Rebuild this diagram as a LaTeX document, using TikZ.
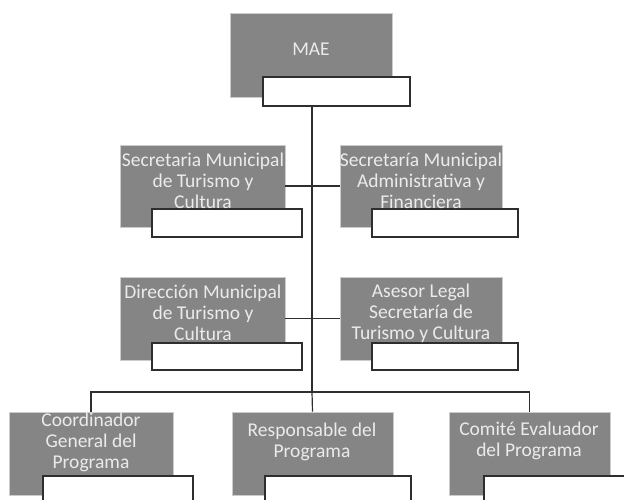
\documentclass[tikz,border=0pt]{standalone}
\usepackage{fontspec}
\setmainfont{Carlito}
\definecolor{boxgray}{HTML}{858585}
\definecolor{txtgray}{HTML}{EBEBEB}
\definecolor{linegray}{HTML}{2E2E2E}
\begin{document}
\begin{tikzpicture}[x=1pt,y=-1pt,
  darkbox/.style={fill=boxgray,draw=black!20,line width=0.6pt,inner sep=0pt,minimum width=#1,minimum height=83pt},
  darkbox/.default=164pt,
  whitebox/.style={fill=white,draw=linegray,line width=1.1pt,inner sep=0pt,minimum width=148pt,minimum height=29pt},
  label text/.style={text=txtgray,font=\fontsize{19.5}{21}\selectfont,align=center,inner sep=0pt},
  conn/.style={draw=linegray,line width=1.2pt}]
\useasboundingbox (0,0) rectangle (624,500);
\begin{scope}
\clip (0,0) rectangle (624,500);
% dark boxes
\node[darkbox=162pt,minimum height=84pt] (mae) at (311,55) {};
\node[darkbox=165pt,minimum height=82pt] (smtc) at (202.5,186) {};
\node[darkbox=162pt,minimum height=82pt] (smaf) at (421,186) {};
\node[darkbox=165pt] (dmtc) at (202.5,318.5) {};
\node[darkbox=162pt] (alst) at (421,318.5) {};
\node[darkbox] (cgp) at (91,453.5) {};
\node[darkbox=161pt] (rp) at (312.5,453.5) {};
\node[darkbox=161pt] (cep) at (529.5,453.5) {};
% white boxes
\node[whitebox,minimum width=147pt] (maew) at (336.5,91.5) {};
\node[whitebox,minimum width=150pt,minimum height=28pt] (smtcw) at (227,223) {};
\node[whitebox,minimum width=146pt,minimum height=28pt] (smafw) at (445,223) {};
\node[whitebox,minimum width=150pt,minimum height=27pt] (dmtcw) at (227,356.5) {};
\node[whitebox,minimum width=146pt,minimum height=27pt] (alstw) at (445,356.5) {};
\node[whitebox,minimum width=150pt] (cgpw) at (118,490.5) {};
\node[whitebox,minimum width=146pt] (rpw) at (338,490.5) {};
\node[whitebox,minimum width=150pt] (cepw) at (559,490.5) {};
% texts
\node[label text] (maet) at (311,49) {MAE};
\node[label text] (smtct) at (203,181) {Secretaria Municipal\\de Turismo y\\Cultura};
\node[label text] (smaft) at (421,181) {Secretaría Municipal\\Administrativa y\\Financiera};
\node[label text] (dmtct) at (203,313) {Dirección Municipal\\de Turismo y\\Cultura};
\node[label text] (alstt) at (421,313) {Asesor Legal\\Secretaría de\\Turismo y Cultura};
\node[label text] (cgpt) at (91,442) {Coordinador\\General del\\Programa};
\node[label text] (rpt) at (312,442) {Responsable del\\Programa};
\node[label text] (cept) at (529,441) {Comité Evaluador\\del Programa};
% connectors
\coordinate (jb) at (312,392);
\coordinate (jl) at (cgp.north |- jb);
\coordinate (jr) at (cep.north |- jb);
\draw[conn] (312,106) -- (jb);
\draw[conn] (smtc.east) -- (smaf.west);
\draw[conn] (dmtc.east) -- (alst.west);
\draw[conn] (cgp.north) -- (jl) -- (jr) -- (cep.north);
\draw[conn] (jb) -- (rp.north);
\end{scope}
\end{tikzpicture}
\end{document}
